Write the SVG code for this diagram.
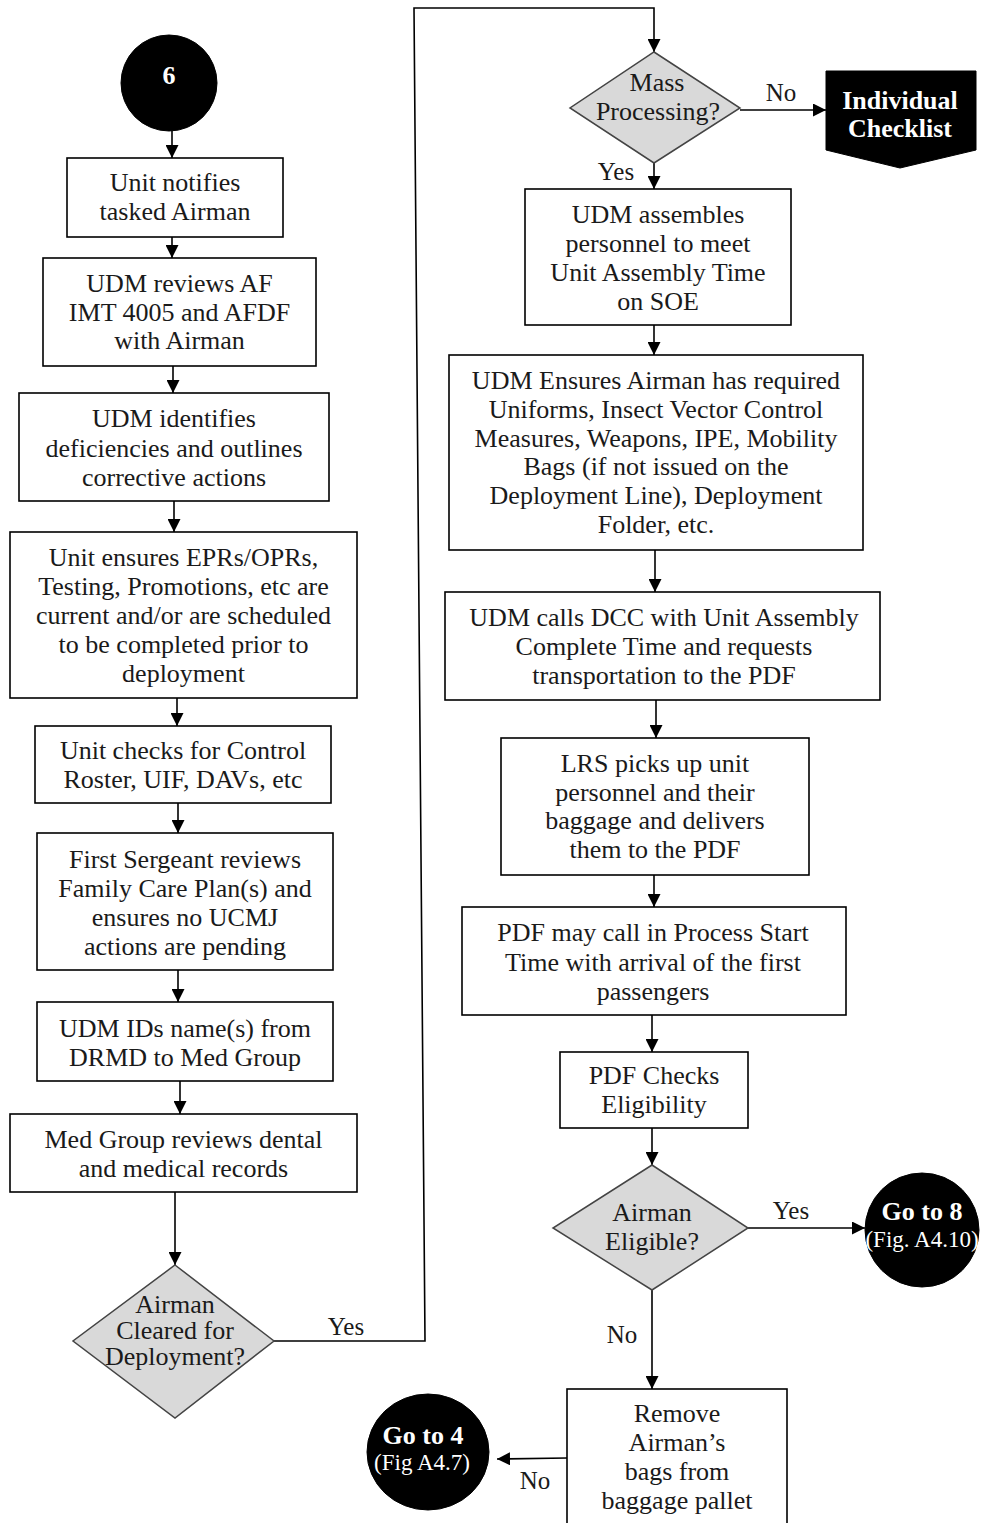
<svg xmlns="http://www.w3.org/2000/svg" width="981" height="1523" viewBox="0 0 981 1523">
  <defs>
    <marker id="arrow" markerUnits="userSpaceOnUse" markerWidth="13" markerHeight="13" refX="13" refY="6.5" orient="auto">
      <path d="M0,0 L13,6.5 L0,13 z" fill="#000"/>
    </marker>
    <style>
      .box { fill: #fff; stroke: #000; stroke-width: 1.6; }
      .dec { fill: #d9d9d9; stroke: #444; stroke-width: 1.5; }
      .term { fill: #000; stroke: #000; }
      .t { font-family: "Liberation Serif", "Times New Roman", serif; font-size: 26px; fill: #1a1a1a; text-anchor: middle; }
      .tw { font-family: "Liberation Serif", "Times New Roman", serif; fill: #fff; text-anchor: middle; }
      .b { font-weight: bold; font-size: 26px; }
      .s { font-size: 23px; }
      .lbl { font-family: "Liberation Serif", "Times New Roman", serif; font-size: 25px; fill: #1a1a1a; text-anchor: middle; }
      .conn { fill: none; stroke: #000; stroke-width: 1.6; }
    </style>
  </defs>
  <rect width="981" height="1523" fill="#fff"/>

  <!-- connectors -->
  <g id="connectors">
    <line class="conn" x1="172" y1="131" x2="172" y2="158" marker-end="url(#arrow)"/>
    <line class="conn" x1="172" y1="237" x2="172" y2="258" marker-end="url(#arrow)"/>
    <line class="conn" x1="173" y1="366" x2="173" y2="393" marker-end="url(#arrow)"/>
    <line class="conn" x1="174" y1="501" x2="174" y2="532" marker-end="url(#arrow)"/>
    <line class="conn" x1="177" y1="698" x2="177" y2="726" marker-end="url(#arrow)"/>
    <line class="conn" x1="178" y1="803" x2="178" y2="833" marker-end="url(#arrow)"/>
    <line class="conn" x1="178" y1="970" x2="178" y2="1002" marker-end="url(#arrow)"/>
    <line class="conn" x1="180" y1="1081" x2="180" y2="1114" marker-end="url(#arrow)"/>
    <line class="conn" x1="175" y1="1192" x2="175" y2="1265" marker-end="url(#arrow)"/>
    <polyline class="conn" points="274,1341 425,1341 414,8 654,8 654,52" marker-end="url(#arrow)"/>
    <line class="conn" x1="740" y1="110" x2="826" y2="110" marker-end="url(#arrow)"/>
    <line class="conn" x1="654" y1="163" x2="654" y2="189" marker-end="url(#arrow)"/>
    <line class="conn" x1="654" y1="325" x2="654" y2="355" marker-end="url(#arrow)"/>
    <line class="conn" x1="655" y1="550" x2="655" y2="592" marker-end="url(#arrow)"/>
    <line class="conn" x1="656" y1="700" x2="656" y2="738" marker-end="url(#arrow)"/>
    <line class="conn" x1="654" y1="875" x2="654" y2="907" marker-end="url(#arrow)"/>
    <line class="conn" x1="652" y1="1015" x2="652" y2="1052" marker-end="url(#arrow)"/>
    <line class="conn" x1="652" y1="1128" x2="652" y2="1165" marker-end="url(#arrow)"/>
    <line class="conn" x1="748" y1="1228" x2="865" y2="1228" marker-end="url(#arrow)"/>
    <line class="conn" x1="652" y1="1290" x2="652" y2="1389" marker-end="url(#arrow)"/>
    <line class="conn" x1="567" y1="1458" x2="497" y2="1459" marker-end="url(#arrow)"/>
    <text class="lbl" x="781" y="101">No</text>
    <text class="lbl" x="616" y="180">Yes</text>
    <text class="lbl" x="346" y="1335">Yes</text>
    <text class="lbl" x="791" y="1219">Yes</text>
    <text class="lbl" x="622" y="1343">No</text>
    <text class="lbl" x="535" y="1489">No</text>
  </g>

  <!-- left column -->
  <g id="start6">
    <circle class="term" cx="169" cy="83" r="48"/>
    <text class="tw b" x="169" y="84">6</text>
  </g>
  <g id="notify">
    <rect class="box" x="67" y="158" width="216" height="79"/>
    <text class="t" x="175" y="191">Unit notifies</text>
    <text class="t" x="175" y="220">tasked Airman</text>
  </g>
  <g id="review4005">
    <rect class="box" x="43" y="258" width="273" height="108"/>
    <text class="t" x="179.5" y="292">UDM reviews AF</text>
    <text class="t" x="179.5" y="321">IMT 4005 and AFDF</text>
    <text class="t" x="179.5" y="349">with Airman</text>
  </g>
  <g id="deficiencies">
    <rect class="box" x="19" y="393" width="310" height="108"/>
    <text class="t" x="174" y="427">UDM identifies</text>
    <text class="t" x="174" y="457">deficiencies and outlines</text>
    <text class="t" x="174" y="486">corrective actions</text>
  </g>
  <g id="eprs">
    <rect class="box" x="10" y="532" width="347" height="166"/>
    <text class="t" x="183.5" y="566">Unit ensures EPRs/OPRs,</text>
    <text class="t" x="183.5" y="595">Testing, Promotions, etc are</text>
    <text class="t" x="183.5" y="624">current and/or are scheduled</text>
    <text class="t" x="183.5" y="653">to be completed prior to</text>
    <text class="t" x="183.5" y="682">deployment</text>
  </g>
  <g id="controlRoster">
    <rect class="box" x="35" y="726" width="296" height="77"/>
    <text class="t" x="183" y="759">Unit checks for Control</text>
    <text class="t" x="183" y="788">Roster, UIF, DAVs, etc</text>
  </g>
  <g id="firstSergeant">
    <rect class="box" x="37" y="833" width="296" height="137"/>
    <text class="t" x="185" y="868">First Sergeant reviews</text>
    <text class="t" x="185" y="897">Family Care Plan(s) and</text>
    <text class="t" x="185" y="926">ensures no UCMJ</text>
    <text class="t" x="185" y="955">actions are pending</text>
  </g>
  <g id="udmIds">
    <rect class="box" x="37" y="1002" width="296" height="79"/>
    <text class="t" x="185" y="1037">UDM IDs name(s) from</text>
    <text class="t" x="185" y="1066">DRMD to Med Group</text>
  </g>
  <g id="medGroup">
    <rect class="box" x="10" y="1114" width="347" height="78"/>
    <text class="t" x="183.5" y="1148">Med Group reviews dental</text>
    <text class="t" x="183.5" y="1177">and medical records</text>
  </g>
  <g id="cleared">
    <polygon class="dec" points="175,1265 274,1341 175,1418 73,1341"/>
    <text class="t" x="175" y="1313">Airman</text>
    <text class="t" x="175" y="1339">Cleared for</text>
    <text class="t" x="175" y="1365">Deployment?</text>
  </g>

  <!-- right column -->
  <g id="massProcessing">
    <polygon class="dec" points="654,52 740,108 654,163 570,108"/>
    <text class="t" x="657" y="91">Mass</text>
    <text class="t" x="658" y="120">Processing?</text>
  </g>
  <g id="individualChecklist">
    <polygon class="term" points="826,71 976,71 976,150 900,168 826,150"/>
    <text class="tw b" x="900" y="109">Individual</text>
    <text class="tw b" x="900" y="137">Checklist</text>
  </g>
  <g id="assemble">
    <rect class="box" x="525" y="189" width="266" height="136"/>
    <text class="t" x="658" y="223">UDM assembles</text>
    <text class="t" x="658" y="252">personnel to meet</text>
    <text class="t" x="658" y="281">Unit Assembly Time</text>
    <text class="t" x="658" y="310">on SOE</text>
  </g>
  <g id="ensures">
    <rect class="box" x="449" y="355" width="414" height="195"/>
    <text class="t" x="656" y="389">UDM Ensures Airman has required</text>
    <text class="t" x="656" y="418">Uniforms, Insect Vector Control</text>
    <text class="t" x="656" y="447">Measures, Weapons, IPE, Mobility</text>
    <text class="t" x="656" y="475">Bags (if not issued on the</text>
    <text class="t" x="656" y="504">Deployment Line), Deployment</text>
    <text class="t" x="656" y="533">Folder, etc.</text>
  </g>
  <g id="callsDcc">
    <rect class="box" x="445" y="592" width="435" height="108"/>
    <text class="t" x="664" y="626">UDM calls DCC with Unit Assembly</text>
    <text class="t" x="664" y="655">Complete Time and requests</text>
    <text class="t" x="664" y="684">transportation to the PDF</text>
  </g>
  <g id="lrsPickup">
    <rect class="box" x="501" y="738" width="308" height="137"/>
    <text class="t" x="655" y="772">LRS picks up unit</text>
    <text class="t" x="655" y="801">personnel and their</text>
    <text class="t" x="655" y="829">baggage and delivers</text>
    <text class="t" x="655" y="858">them to the PDF</text>
  </g>
  <g id="processStart">
    <rect class="box" x="462" y="907" width="384" height="108"/>
    <text class="t" x="653" y="941">PDF may call in Process Start</text>
    <text class="t" x="653" y="971">Time with arrival of the first</text>
    <text class="t" x="653" y="1000">passengers</text>
  </g>
  <g id="checksEligibility">
    <rect class="box" x="560" y="1052" width="188" height="76"/>
    <text class="t" x="654" y="1084">PDF Checks</text>
    <text class="t" x="654" y="1113">Eligibility</text>
  </g>
  <g id="eligible">
    <polygon class="dec" points="652,1165 748,1228 652,1290 553,1228"/>
    <text class="t" x="652" y="1221">Airman</text>
    <text class="t" x="652" y="1250">Eligible?</text>
  </g>
  <g id="goto8">
    <circle class="term" cx="922" cy="1230" r="57"/>
    <text class="tw b" x="922" y="1220">Go to 8</text>
    <text class="tw s" x="922" y="1247">(Fig. A4.10)</text>
  </g>
  <g id="removeBags">
    <rect class="box" x="567" y="1389" width="220" height="150"/>
    <text class="t" x="677" y="1422">Remove</text>
    <text class="t" x="677" y="1451">Airman’s</text>
    <text class="t" x="677" y="1480">bags from</text>
    <text class="t" x="677" y="1509">baggage pallet</text>
  </g>
  <g id="goto4">
    <ellipse class="term" cx="428" cy="1452" rx="61" ry="58"/>
    <text class="tw b" x="423" y="1444">Go to 4</text>
    <text class="tw s" x="422" y="1470">(Fig A4.7)</text>
  </g>
</svg>
